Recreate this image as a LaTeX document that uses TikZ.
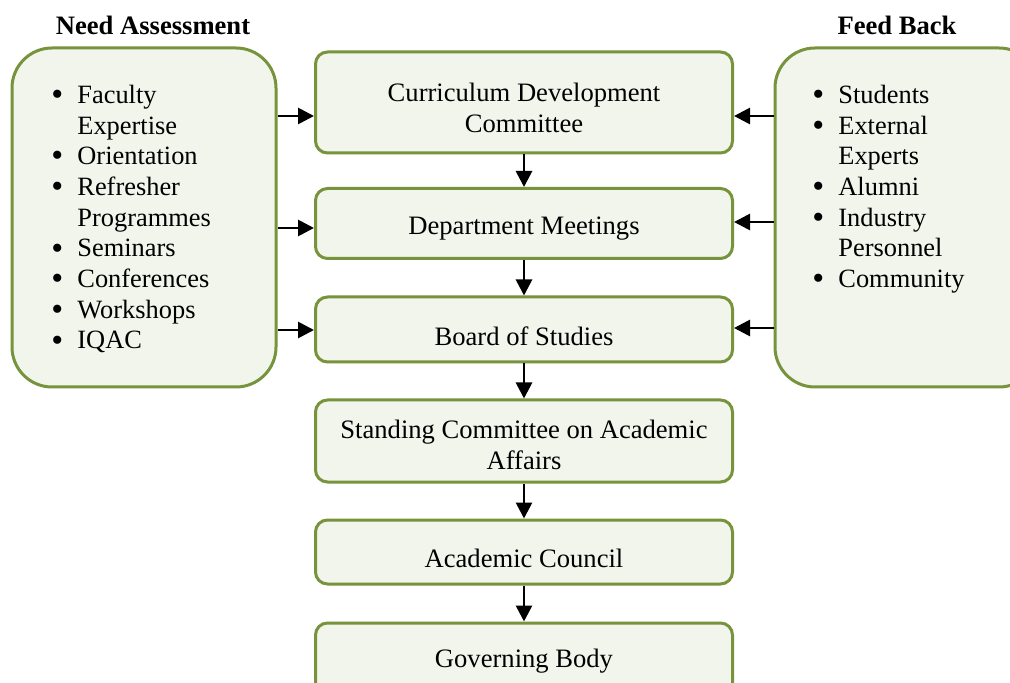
\documentclass[tikz,border=0pt]{standalone}
\usepackage{fontspec}
\setmainfont{Liberation Serif}
\usetikzlibrary{arrows.meta}
\definecolor{boxfill}{HTML}{F2F5EC}
\definecolor{boxdraw}{HTML}{77933C}
\newcommand{\txtfont}{\fontsize{13.3}{15.6}\selectfont}
\newcommand{\lstfont}{\fontsize{13.2}{15.35}\selectfont}
\newcommand{\bul}{\makebox[13pt][l]{\smash{\raisebox{-1.1pt}{\fontsize{17}{15}\selectfont\textbullet}}}}
\tikzset{
  stage/.style={draw=boxdraw, fill=boxfill, line width=1.5pt, rounded corners=6pt,
    minimum width=208.5pt, inner sep=0pt},
  stagetext/.style={align=center, font=\txtfont, inner sep=0pt},
  side/.style={draw=boxdraw, fill=boxfill, line width=1.5pt, rounded corners=20pt,
    minimum width=132pt, minimum height=169.5pt},
  list/.style={anchor=north west, inner sep=0pt, align=left, font=\lstfont},
  title/.style={font=\txtfont\bfseries},
  arr/.style={-{Triangle[length=8pt,width=8pt]}, line width=1.4pt, black}
}
\begin{document}
\begin{tikzpicture}[x=0.5pt,y=-0.5pt]
\useasboundingbox (0,0) rectangle (1010,683);
\clip (0,0) rectangle (1010,683);
\fill[white] (0,0) rectangle (1010,683);
% side boxes
\node[side] (L) at (144,217.5) {};
\node[side] (R) at (907,217.5) {};
\node[title] (tl) at (153,25) {Need Assessment};
\node[title] (tr) at (897,25) {Feed Back};
\node[list] (ll) at (51,81.5) {\lstfont\begin{tabular}{@{}l@{}l@{}}
\bul & Faculty\\ & Expertise\\ \bul & Orientation\\ \bul & Refresher\\ & Programmes\\
\bul & Seminars\\ \bul & Conferences\\ \bul & Workshops\\ \bul & IQAC
\end{tabular}};
\node[list] (rl) at (812,81.5) {\lstfont\begin{tabular}{@{}l@{}l@{}}
\bul & Students\\ \bul & External\\ & Experts\\ \bul & Alumni\\ \bul & Industry\\ & Personnel\\
\bul & Community
\end{tabular}};
% stages
\node[stage, minimum height=50.5pt] (b1) at (524,102.5) {};
\node[stage, minimum height=35pt] (b2) at (524,223.5) {};
\node[stage, minimum height=32.5pt] (b3) at (524,329.5) {};
\node[stage, minimum height=41pt] (b4) at (524,441) {};
\node[stage, minimum height=32pt] (b5) at (524,552) {};
\node[stage, minimum height=41pt] (b6) at (524,664) {};
\node[stagetext] (t1) at (524,108) {Curriculum Development\\Committee};
\node[stagetext] (t2) at (524,229) {Department Meetings};
\node[stagetext] (t3) at (524,336) {Board of Studies};
\node[stagetext] (t4) at (524,445) {Standing Committee on Academic\\Affairs};
\node[stagetext] (t5) at (524,558) {Academic Council};
\node[stagetext] (t6) at (524,661) {Governing Body};
% vertical arrows
\draw[arr] (b1) -- (b2);
\draw[arr] (b2) -- (b3);
\draw[arr] (b3) -- (b4);
\draw[arr] (b4) -- (b5);
\draw[arr] (b5) -- (b6);
% side arrows
\draw[arr] (L.east |- 0,116) -- (b1.west |- 0,116);
\draw[arr] (L.east |- 0,228) -- (b2.west |- 0,228);
\draw[arr] (L.east |- 0,330) -- (b3.west |- 0,330);
\draw[arr] (R.west |- 0,116) -- (b1.east |- 0,116);
\draw[arr] (R.west |- 0,222) -- (b2.east |- 0,222);
\draw[arr] (R.west |- 0,328) -- (b3.east |- 0,328);
\end{tikzpicture}
\end{document}
